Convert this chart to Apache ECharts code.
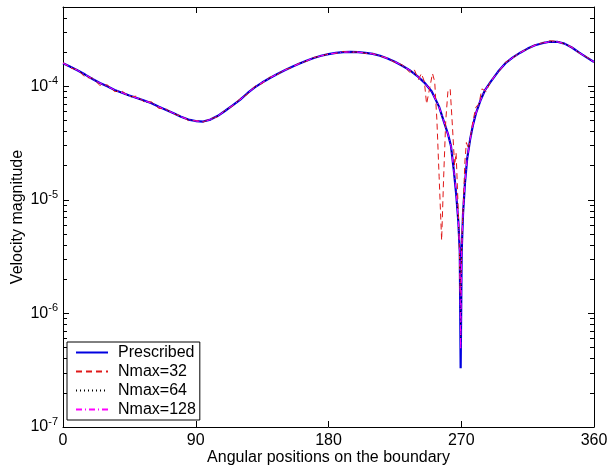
<!DOCTYPE html>
<html>
<head>
<meta charset="utf-8">
<script src="https://cdn.jsdelivr.net/npm/echarts@6/dist/echarts.min.js"></script>
<style>html,body{margin:0;padding:0;background:#fff}#c{width:608px;height:471px}</style>
</head>
<body>
<div id="c"></div>
<script>
// ---- data ----
var thetaP = [0,5,10,15,20,25,30,35,40,45,50,55,60,65,70,75,80,85,90,95,100,105,110,115,120,125,130,135,140,145,150,155,160,165,170,175,180,185,190,195,200,205,210,215,220,225,230,235,240,245,250,255,258,261,263,265,266.5,268,269,269.6,270.3,271.2,272.5,274,276,278,280,283,286,290,295,300,305,310,315,320,325,330,335,340,345,350,355,360];
var prescribed = [1.60e-4,1.49e-4,1.38e-4,1.27e-4,1.16e-4,1.07e-4,1.00e-4,9.3e-5,8.8e-5,8.3e-5,7.9e-5,7.5e-5,7.1e-5,6.6e-5,6.2e-5,5.8e-5,5.4e-5,5.1e-5,4.95e-5,4.9e-5,5.1e-5,5.5e-5,6.1e-5,6.8e-5,7.6e-5,8.7e-5,9.8e-5,1.08e-4,1.18e-4,1.28e-4,1.38e-4,1.48e-4,1.58e-4,1.68e-4,1.78e-4,1.86e-4,1.92e-4,1.97e-4,2.0e-4,2.01e-4,2.0e-4,1.97e-4,1.93e-4,1.86e-4,1.76e-4,1.65e-4,1.52e-4,1.39e-4,1.24e-4,1.08e-4,9.0e-5,6.6e-5,5.0e-5,3.8e-5,3.0e-5,1.8e-5,1.15e-5,6.5e-6,3.5e-6,3.3e-7,3.5e-6,7.5e-6,1.4e-5,2.3e-5,3.4e-5,4.6e-5,5.8e-5,7.5e-5,9.2e-5,1.1e-4,1.35e-4,1.6e-4,1.8e-4,1.98e-4,2.15e-4,2.3e-4,2.4e-4,2.47e-4,2.47e-4,2.38e-4,2.2e-4,1.98e-4,1.8e-4,1.64e-4];
var nmax64 = [1.60e-4,1.48e-4,1.38e-4,1.26e-4,1.16e-4,1.06e-4,1.00e-4,9.2e-5,8.8e-5,8.2e-5,7.9e-5,7.4e-5,7.1e-5,6.6e-5,6.2e-5,5.8e-5,5.4e-5,5.1e-5,4.95e-5,4.9e-5,5.1e-5,5.5e-5,6.1e-5,6.8e-5,7.6e-5,8.7e-5,9.8e-5,1.08e-4,1.18e-4,1.28e-4,1.38e-4,1.48e-4,1.58e-4,1.68e-4,1.78e-4,1.86e-4,1.92e-4,1.97e-4,2.0e-4,2.01e-4,2.0e-4,1.97e-4,1.93e-4,1.86e-4,1.76e-4,1.65e-4,1.52e-4,1.39e-4,1.24e-4,1.08e-4,9.0e-5,6.6e-5,5.0e-5,3.8e-5,3.0e-5,1.8e-5,1.15e-5,6.5e-6,3.6e-6,6e-7,3.6e-6,7.5e-6,1.4e-5,2.3e-5,3.4e-5,4.6e-5,5.8e-5,7.5e-5,9.2e-5,1.1e-4,1.35e-4,1.6e-4,1.8e-4,1.98e-4,2.15e-4,2.3e-4,2.4e-4,2.47e-4,2.47e-4,2.38e-4,2.2e-4,1.98e-4,1.8e-4,1.64e-4];
var nmax128 = [1.60e-4,1.49e-4,1.38e-4,1.27e-4,1.16e-4,1.07e-4,1.00e-4,9.3e-5,8.8e-5,8.3e-5,7.9e-5,7.5e-5,7.1e-5,6.6e-5,6.2e-5,5.8e-5,5.4e-5,5.1e-5,4.95e-5,4.9e-5,5.1e-5,5.5e-5,6.1e-5,6.8e-5,7.6e-5,8.7e-5,9.8e-5,1.08e-4,1.18e-4,1.28e-4,1.38e-4,1.48e-4,1.58e-4,1.68e-4,1.78e-4,1.86e-4,1.92e-4,1.97e-4,2.0e-4,2.01e-4,2.0e-4,1.97e-4,1.93e-4,1.86e-4,1.76e-4,1.65e-4,1.52e-4,1.39e-4,1.24e-4,1.08e-4,9.0e-5,6.6e-5,5.0e-5,3.8e-5,3.0e-5,1.8e-5,1.2e-5,6.6e-6,3.6e-6,4.8e-7,3.6e-6,7.5e-6,1.4e-5,2.3e-5,3.4e-5,4.6e-5,5.8e-5,7.5e-5,9.2e-5,1.1e-4,1.35e-4,1.6e-4,1.8e-4,1.98e-4,2.15e-4,2.3e-4,2.4e-4,2.47e-4,2.47e-4,2.38e-4,2.2e-4,1.98e-4,1.8e-4,1.64e-4];
var theta32 = [0,5,10,15,20,25,30,35,40,45,50,55,60,65,70,75,80,85,90,95,100,105,110,115,120,125,130,135,140,145,150,155,160,165,170,175,180,185,190,195,200,205,210,215,220,225,230,235,238,241,243,245,246.5,248.5,250.5,252,253.5,255,256.7,258,259.5,261,262.5,264,265.5,266.5,267.5,268.5,269.3,269.8,270.5,271.5,272.5,273.5,275,276.5,278,280,282,284,287,290,295,300,305,310,315,320,325,330,335,340,345,350,355,360];
var nmax32 = [1.62e-4,1.45e-4,1.40e-4,1.2e-4,1.18e-4,1.02e-4,1.03e-4,9.0e-5,9.1e-5,8.1e-5,8.2e-5,7.3e-5,7.3e-5,6.4e-5,6.3e-5,5.7e-5,5.5e-5,5.0e-5,5.0e-5,4.85e-5,5.2e-5,5.4e-5,6.2e-5,6.7e-5,7.8e-5,8.5e-5,1.0e-4,1.06e-4,1.2e-4,1.26e-4,1.4e-4,1.46e-4,1.6e-4,1.66e-4,1.8e-4,1.84e-4,1.94e-4,1.95e-4,2.03e-4,1.99e-4,2.02e-4,1.95e-4,1.95e-4,1.84e-4,1.78e-4,1.62e-4,1.55e-4,1.33e-4,1.42e-4,1.15e-4,1.3e-4,1.1e-4,7.0e-5,9.5e-5,1.3e-4,1.1e-4,5.0e-5,1.6e-5,4.4e-6,1.5e-5,5.0e-5,9.2e-5,9.5e-5,4.5e-5,2.0e-5,2.6e-5,1.2e-5,5.0e-6,1.5e-6,2.0e-6,5.0e-6,1.0e-5,2.2e-5,3.2e-5,2.8e-5,3.8e-5,5.0e-5,6.6e-5,7.0e-5,9.5e-5,9.0e-5,1.13e-4,1.32e-4,1.63e-4,1.78e-4,2.0e-4,2.13e-4,2.32e-4,2.42e-4,2.52e-4,2.5e-4,2.36e-4,2.22e-4,1.96e-4,1.82e-4,1.64e-4];
var xTicks = [0,90,180,270,360];
var yDecades = [1e-7,1e-6,1e-5,1e-4];
var yMinor = [2e-7,3e-7,4e-7,5e-7,6e-7,7e-7,8e-7,9e-7,2e-6,3e-6,4e-6,5e-6,6e-6,7e-6,8e-6,9e-6,2e-5,3e-5,4e-5,5e-5,6e-5,7e-5,8e-5,9e-5,2e-4,3e-4,4e-4];
var seriesNames = ['Prescribed','Nmax=32','Nmax=64','Nmax=128'];

function pairs(xs, ys){ return xs.map(function(x,i){ return [x, ys[i]]; }); }

var FONT = 'Liberation Sans, Arial, Helvetica, sans-serif';
var chart = echarts.init(document.getElementById('c'), null, {renderer:'canvas'});
var lineCol = '#000';
function yAx(pos, major, showLabel){
  return {
    type:'log', logBase:10, min:1e-7, max:5e-4, position:pos,
    axisLine:{show:major, lineStyle:{color:lineCol, width:1}},
    axisTick:{show:true, inside:true, length: major?6:4, customValues: major? yDecades : yMinor, lineStyle:{color:lineCol}},
    axisLabel: showLabel ? {
      show:true, customValues:yDecades, margin:5, color:'#000', fontFamily:FONT,
      formatter:function(v){ var e=Math.round(Math.log10(v)); return '{b|10}{e|'+e+'}'; },
      rich:{ b:{fontSize:16, fontFamily:FONT, color:'#000', lineHeight:18}, e:{fontSize:11, fontFamily:FONT, color:'#000', padding:[0,0,10,0]} }
    } : {show:false},
    splitLine:{show:false}, minorTick:{show:false}, minorSplitLine:{show:false},
    name: showLabel ? 'Velocity magnitude' : '', nameLocation:'middle', nameGap:37, nameMoveOverlap:false,
    nameTextStyle:{fontSize:16, fontFamily:FONT, color:'#000'}
  };
}
var option = {
  animation:false,
  backgroundColor:'#fff',
  grid:{left:63, right:14, top:7, bottom:44, containLabel:false, outerBoundsMode:'none'},
  xAxis:[
    {type:'value', min:0, max:360, interval:90, position:'bottom',
     axisLine:{show:true, lineStyle:{color:lineCol}},
     axisTick:{show:true, inside:true, length:6, customValues:xTicks, lineStyle:{color:lineCol}},
     axisLabel:{show:true, customValues:xTicks, fontSize:16, fontFamily:FONT, color:'#000', margin:6},
     splitLine:{show:false},
     name:'Angular positions on the boundary', nameLocation:'middle', nameGap:23, nameMoveOverlap:false,
     nameTextStyle:{fontSize:16, fontFamily:FONT, color:'#000'}},
    {type:'value', min:0, max:360, interval:90, position:'top',
     axisLine:{show:true, lineStyle:{color:lineCol}},
     axisTick:{show:true, inside:true, length:6, customValues:xTicks, lineStyle:{color:lineCol}},
     axisLabel:{show:false}, splitLine:{show:false}}
  ],
  yAxis:[ yAx('left', true, true), yAx('left', false, false), yAx('right', true, false), yAx('right', false, false) ],
  legend:{
    orient:'vertical', left:67, top:342,
    data:seriesNames,
    backgroundColor:'#fff', borderColor:'#000', borderWidth:1, borderRadius:0,
    padding:[1,4,1,8], itemGap:0, itemWidth:32, itemHeight:14,
    itemStyle:{color:'rgba(0,0,0,0)', borderWidth:0, opacity:0},
    textStyle:{fontSize:16, fontFamily:FONT, color:'#000', lineHeight:19, padding:[0,0,0,5]}
  },
  series:[
    {name:'Prescribed', type:'line', data:pairs(thetaP, prescribed), symbol:'none', z:2,
     lineStyle:{color:'#0000e0', width:2.2}, itemStyle:{color:'#0000e0'}},
    {name:'Nmax=32', type:'line', data:pairs(theta32, nmax32), symbol:'none', z:3,
     lineStyle:{color:'#e01818', width:1, type:[6,4]}, itemStyle:{color:'#e01818'}},
    {name:'Nmax=64', type:'line', data:pairs(thetaP, nmax64), symbol:'none', z:4,
     lineStyle:{color:'#000', width:1, type:[1,3]}, itemStyle:{color:'#000'}},
    {name:'Nmax=128', type:'line', data:pairs(thetaP, nmax128), symbol:'none', z:5,
     lineStyle:{color:'#ff00ff', width:1, type:[6,3,1,3]}, itemStyle:{color:'#ff00ff'}}
  ]
};
chart.setOption(option);
</script>
</body>
</html>
